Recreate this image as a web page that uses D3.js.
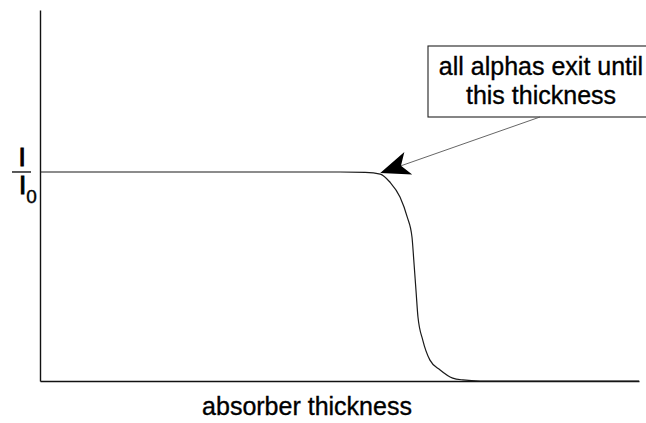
<!DOCTYPE html>
<html>
<head>
<meta charset="utf-8">
<script src="https://cdn.jsdelivr.net/npm/d3@7"></script>
<style>
  html, body { margin: 0; padding: 0; background: #fff; }
  svg { display: block; font-family: "Liberation Sans", Arial, sans-serif; }
  text { stroke: #000; stroke-width: 0.35px; }
</style>
</head>
<body>
<script>
// Transmitted alpha intensity I/I0 versus absorber thickness (arbitrary units)
const thickness = [0, 5.01, 5.43, 5.68, 5.84, 6.01, 6.13, 6.21, 6.24, 6.28, 6.31, 6.39, 6.51, 6.68, 6.89, 7.06, 7.35, 10];
const intensity = [1, 1.00, 0.998, 0.99, 0.952, 0.880, 0.785, 0.689, 0.579, 0.421, 0.306, 0.196, 0.100, 0.053, 0.014, 0.005, 0, 0];

const xDomain = [0, 10];
const yDomain = [0, 1.775];

const xLabel = "absorber thickness";
const calloutLines = ["all alphas exit until", "this thickness"];
// point on the curve the callout refers to
const calloutTarget = { x: 5.68, y: 0.99 };

const W = 646, H = 423;
const svg = d3.select("body").append("svg").attr("width", W).attr("height", H);

const x = d3.scaleLinear().domain(xDomain).range([40, 639]);
const y = d3.scaleLinear().domain(yDomain).range([381, 10]);

// axes: bare lines, no ticks
svg.append("g")
  .attr("transform", `translate(0,${y(0)})`)
  .call(d3.axisBottom(x).tickValues([]).tickSizeOuter(0))
  .select(".domain").attr("stroke", "#111").attr("stroke-width", 1.4);

svg.append("g")
  .attr("transform", `translate(${x(0)},0)`)
  .call(d3.axisLeft(y).tickValues([]).tickSizeOuter(0))
  .select(".domain").attr("stroke", "#111").attr("stroke-width", 1.4);

// curve
const pts = thickness.map((t, i) => [t, intensity[i]]);
svg.append("path")
  .datum(pts)
  .attr("fill", "none")
  .attr("stroke", "#1a1a1a")
  .attr("stroke-width", 1.2)
  .attr("d", d3.line().x(d => x(d[0])).y(d => y(d[1])).curve(d3.curveMonotoneX));

// y label: I over I0
const ly = svg.append("g").attr("fill", "#000");
ly.append("text").attr("x", 22).attr("y", 166).attr("text-anchor", "middle")
  .attr("font-size", 26).style("stroke-width", "1px").text("I");
ly.append("line").attr("x1", 12).attr("x2", 31).attr("y1", y(1)).attr("y2", y(1))
  .attr("stroke", "#000").attr("stroke-width", 1.3);
const den = ly.append("text").attr("x", 19).attr("y", 194).attr("font-size", 26).style("stroke-width", "1px");
den.append("tspan").text("I");
den.append("tspan").attr("font-size", 19).attr("dy", 9).style("stroke-width", "0.4px").text("0");

// x label
svg.append("text")
  .attr("x", 307).attr("y", 415)
  .attr("text-anchor", "middle")
  .attr("font-size", 25)
  .attr("fill", "#000")
  .text(xLabel);

// callout box
const box = svg.append("g");
box.append("rect")
  .attr("x", 428).attr("y", 46).attr("width", 240).attr("height", 71)
  .attr("fill", "#fff").attr("stroke", "#222").attr("stroke-width", 1.1);
calloutLines.forEach((s, i) => {
  box.append("text")
    .attr("x", 541).attr("y", 75 + i * 29)
    .attr("text-anchor", "middle")
    .attr("font-size", 25)
    .attr("fill", "#000")
    .text(s);
});

// arrow from the box to the curve
const tip = [x(calloutTarget.x), y(calloutTarget.y) - 1];
const start = [540, 117];
const ang = Math.atan2(start[1] - tip[1], start[0] - tip[0]);
const L = 32, wing = 0.38, notch = 22;
const px = (r, a) => [tip[0] + r * Math.cos(a), tip[1] + r * Math.sin(a)];
const w1 = px(L, ang + wing), w2 = px(L, ang - wing), nb = px(notch, ang);
svg.append("line")
  .attr("x1", start[0]).attr("y1", start[1])
  .attr("x2", nb[0]).attr("y2", nb[1])
  .attr("stroke", "#555").attr("stroke-width", 0.9);
svg.append("path")
  .attr("d", `M${tip[0]},${tip[1]}L${w1[0]},${w1[1]}L${nb[0]},${nb[1]}L${w2[0]},${w2[1]}Z`)
  .attr("fill", "#000");
</script>
</body>
</html>
